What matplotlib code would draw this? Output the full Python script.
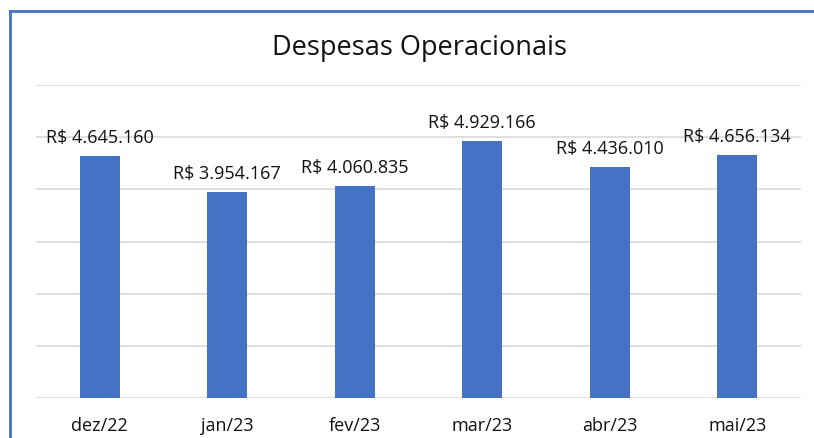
import matplotlib
matplotlib.use('Agg')
from matplotlib import pyplot as plt
from matplotlib.lines import Line2D
import numpy as np

plt.rcParams['font.family'] = ['Open Sans', 'DejaVu Sans']

meses = ['dez/22', 'jan/23', 'fev/23', 'mar/23', 'abr/23', 'mai/23']
despesas = [4645160, 3954167, 4060835, 4929166, 4436010, 4656134]


def fmt_brl(v):
    return 'R$ ' + '{:,}'.format(v).replace(',', '.')


fig = plt.figure(figsize=(8.14, 4.39), dpi=100)
W, H = 814, 439
ax = fig.add_axes([36 / W, 1 - 399 / H, (801 - 36) / W, (399 - 86) / H])

x = np.arange(len(meses))
bars = ax.bar(x, despesas, width=0.313, color='#4472C4', zorder=3)

for b, v in zip(bars, despesas):
    ax.annotate(fmt_brl(v), (b.get_x() + b.get_width() / 2, v),
                xytext=(0, 13.5), textcoords='offset points',
                ha='center', va='center', fontsize=13, color='#111111')

ax.set_xlim(-0.5, len(meses) - 0.5)
ax.set_ylim(0, 6000000)
ax.set_yticks(np.arange(0, 6000001, 1000000))
ax.yaxis.grid(True, color='#d9d9d9', linewidth=1.2, zorder=0)
ax.tick_params(axis='y', left=False, labelleft=False)
ax.tick_params(axis='x', length=0, pad=13, labelsize=13, labelcolor='#111111')
ax.set_xticks(x)
ax.set_xticklabels(meses)
for s in ax.spines.values():
    s.set_visible(False)

fig.text(419 / W, 1 - 48 / H, 'Despesas Operacionais', ha='center', va='center',
         fontsize=19.5, color='#111111')

# blue frame on the left and top
fig.add_artist(Line2D([9.5 / W, 9.5 / W], [0, 1 - 11.5 / H], color='#4472C4',
                      linewidth=2, transform=fig.transFigure))
fig.add_artist(Line2D([9.5 / W, 1], [1 - 11.5 / H, 1 - 11.5 / H], color='#4472C4',
                      linewidth=2, transform=fig.transFigure))

plt.savefig('out.png', dpi=100)
